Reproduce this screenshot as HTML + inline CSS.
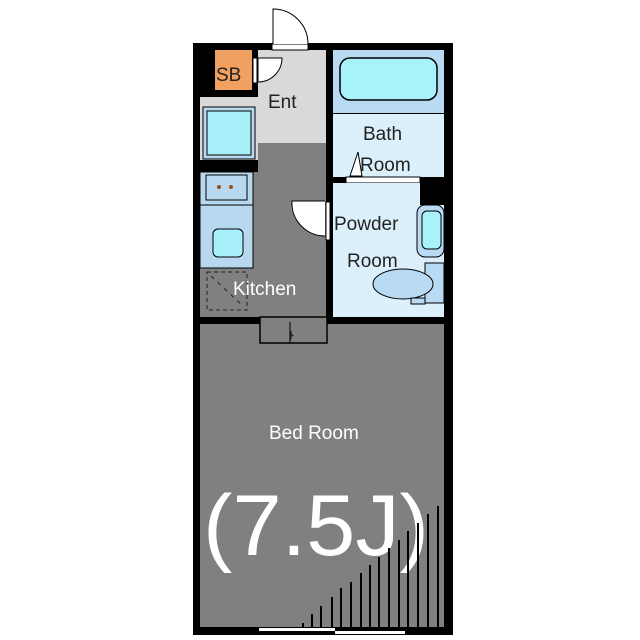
<!DOCTYPE html>
<html><head><meta charset="utf-8"><style>html,body{margin:0;padding:0;background:#fff}svg{display:block}</style></head>
<body>
<svg width="640" height="640" viewBox="0 0 640 640" xmlns="http://www.w3.org/2000/svg" font-family="Liberation Sans, sans-serif">
<!-- outer walls -->
<rect x="193" y="43" width="260" height="592" fill="#000"/>
<!-- Ent -->
<rect x="200" y="50" width="126" height="93" fill="#d9d9d9"/>
<rect x="200" y="50" width="58" height="47" fill="#000"/>
<rect x="215" y="50" width="37" height="40" fill="#f0a060"/>
<text x="216" y="81" font-size="19" fill="#222">SB</text>
<rect x="253" y="58" width="4" height="25" fill="#fff" stroke="#000" stroke-width="1"/>
<path d="M258 58 L282 58 A24 24 0 0 1 258 82 Z" fill="#fff" stroke="#000" stroke-width="1"/>
<text x="268" y="108" font-size="19" fill="#222">Ent</text>
<!-- entrance door -->
<rect x="272" y="44" width="36" height="6" fill="#fff" stroke="#000" stroke-width="1"/>
<path d="M273 44 L273 9 A35 35 0 0 1 308 44" fill="#fff" stroke="#000" stroke-width="1"/>
<!-- Kitchen -->
<rect x="200" y="143" width="126" height="174" fill="#808080"/>
<rect x="200" y="97" width="58" height="68" fill="#d9d9d9"/>
<rect x="203" y="107" width="52" height="52" fill="#b8d8f0" stroke="#000" stroke-width="1"/>
<rect x="207" y="111" width="44" height="44" fill="#a8f0fa" stroke="#000" stroke-width="1"/>
<rect x="200" y="160" width="58" height="12" fill="#000"/>
<rect x="200" y="172" width="53" height="96" fill="#b8d8f0" stroke="#000" stroke-width="1"/>
<rect x="206" y="175" width="41" height="25" fill="#b8d8f0" stroke="#000" stroke-width="1"/>
<circle cx="219" cy="187" r="2" fill="#a05010"/><circle cx="231" cy="187" r="2" fill="#a05010"/>
<line x1="200" y1="205" x2="253" y2="205" stroke="#000"/>
<rect x="213" y="229" width="30" height="28" rx="5" fill="#a8f0fa" stroke="#000" stroke-width="1"/>
<rect x="207" y="272" width="40" height="38" fill="none" stroke="#222" stroke-width="1" stroke-dasharray="4,3"/>
<line x1="211" y1="276" x2="243" y2="306" stroke="#222" stroke-dasharray="4,5"/>
<text x="233" y="295" font-size="19" fill="#fff">Kitchen</text>
<!-- kitchen/powder door -->
<rect x="326" y="202" width="4" height="38" fill="#fff" stroke="#000" stroke-width="1"/>
<path d="M325 201 L292 201 A33 33 0 0 0 325 236" fill="#fff" stroke="#000" stroke-width="1"/>
<!-- Bath -->
<rect x="333" y="50" width="111" height="63" fill="#b8daf2"/>
<rect x="340" y="58" width="97" height="42" rx="10" fill="#a8f2fa" stroke="#000" stroke-width="1.5"/>
<rect x="333" y="114" width="111" height="63" fill="#dcf0fc"/>
<text x="363" y="140" font-size="19" fill="#222">Bath</text>
<text x="360" y="171" font-size="19" fill="#222">Room</text>
<path d="M350 176 L358 152 L362 176 Z" fill="#fff" stroke="#000" stroke-width="1"/>
<rect x="346" y="177" width="74" height="6" fill="#fff" stroke="#000" stroke-width="1"/>
<!-- Powder -->
<rect x="333" y="183" width="111" height="134" fill="#dcf0fc"/>
<rect x="420" y="177" width="33" height="28" fill="#000"/>
<rect x="417" y="205" width="27" height="52" rx="8" fill="#b8daf2" stroke="#000" stroke-width="1"/>
<rect x="422" y="211" width="19" height="38" rx="5" fill="#a8f2fa" stroke="#000" stroke-width="1"/>
<rect x="425" y="263" width="19" height="40" fill="#b8daf2" stroke="#000" stroke-width="1"/>
<ellipse cx="403" cy="284" rx="30" ry="15" fill="#b8daf2" stroke="#000" stroke-width="1"/>
<rect x="411" y="298" width="14" height="6" fill="#b8daf2" stroke="#000" stroke-width="1"/>
<text x="334" y="230" font-size="19" fill="#222">Powder</text>
<text x="347" y="267" font-size="19" fill="#222">Room</text>
<!-- Bedroom -->
<rect x="200" y="324" width="244" height="303" fill="#808080"/>
<rect x="260" y="317" width="67" height="26" fill="#808080" stroke="#000" stroke-width="1.5"/>
<line x1="290" y1="322" x2="290" y2="343" stroke="#000"/>
<text x="289" y="339" font-size="11" fill="#000">ﾄ</text>
<text x="269" y="439" font-size="19" fill="#fff">Bed Room</text>
<text x="203" y="555" font-size="86" fill="#fff" textLength="226" lengthAdjust="spacingAndGlyphs">(7.5J)</text>
<g stroke="#000" stroke-width="2">
<line x1="303" y1="627" x2="303" y2="623"/><line x1="312" y1="627" x2="312" y2="614"/>
<line x1="321" y1="627" x2="321" y2="606"/><line x1="332" y1="627" x2="332" y2="597"/>
<line x1="341" y1="627" x2="341" y2="588"/><line x1="351" y1="627" x2="351" y2="582"/>
<line x1="361" y1="627" x2="361" y2="573"/><line x1="370" y1="627" x2="370" y2="565"/>
<line x1="379" y1="627" x2="379" y2="557"/><line x1="389" y1="627" x2="389" y2="548"/>
<line x1="399" y1="627" x2="399" y2="540"/><line x1="408" y1="627" x2="408" y2="531"/>
<line x1="418" y1="627" x2="418" y2="523"/><line x1="428" y1="627" x2="428" y2="514"/>
<line x1="438" y1="627" x2="438" y2="506"/>
</g>
<rect x="259" y="628" width="76" height="3" fill="#fff"/>
<rect x="335" y="631" width="70" height="3" fill="#fff"/>
</svg>
</body></html>
